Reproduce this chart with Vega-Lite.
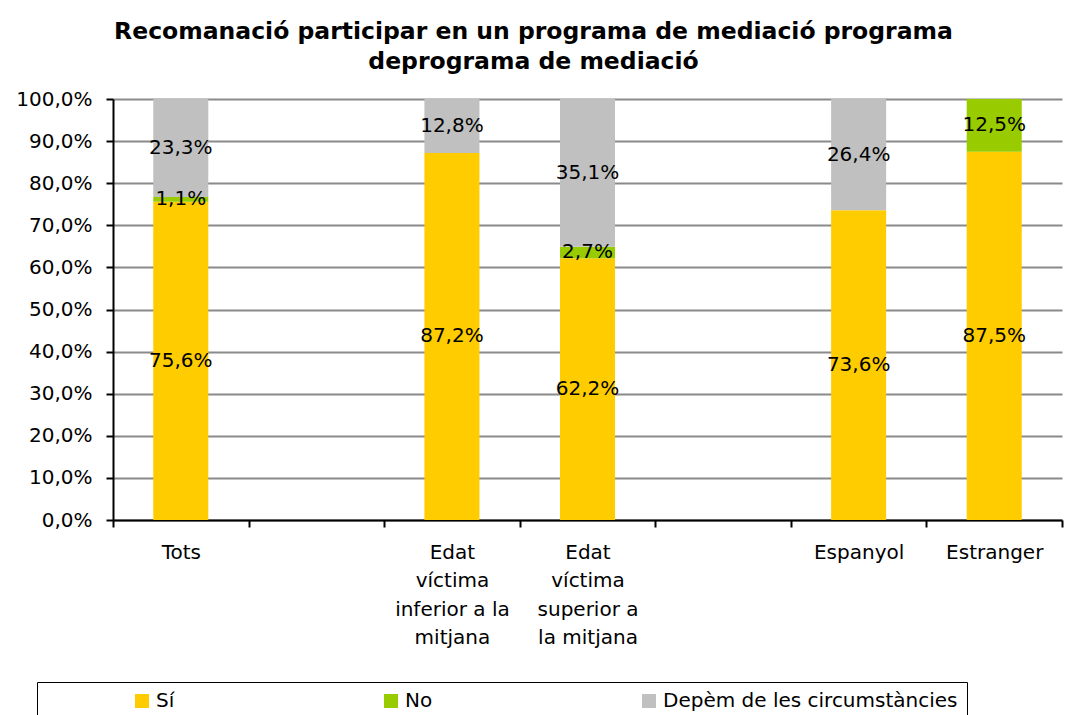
{
  "$schema": "https://vega.github.io/schema/vega-lite/v6.json",
  "width": 949,
  "height": 421,
  "autosize": {"type": "none"},
  "padding": {"left": 113, "top": 99, "right": 6, "bottom": 195},
  "background": "white",
  "title": {
    "text": ["Recomanació participar en un programa de mediació programa", "deprograma de mediació"],
    "font": "DejaVu Sans",
    "fontSize": 23.5,
    "fontWeight": "bold",
    "lineHeight": 30,
    "anchor": "middle",
    "dx": -54,
    "offset": 16,
    "color": "black"
  },
  "config": {
    "locale": {"number": {"decimal": ",", "thousands": ".", "grouping": [3], "currency": ["", " €"]}},
    "view": {"stroke": null},
    "font": "DejaVu Sans"
  },
  "data": {
    "values": [
      {"cat": "Tots", "resp": "Sí", "value": 0.756},
      {"cat": "Tots", "resp": "No", "value": 0.011},
      {"cat": "Tots", "resp": "Depèm de les circumstàncies", "value": 0.233},
      {"cat": "Edat|víctima|inferior a la|mitjana", "resp": "Sí", "value": 0.872},
      {"cat": "Edat|víctima|inferior a la|mitjana", "resp": "No", "value": 0},
      {"cat": "Edat|víctima|inferior a la|mitjana", "resp": "Depèm de les circumstàncies", "value": 0.128},
      {"cat": "Edat|víctima|superior a|la mitjana", "resp": "Sí", "value": 0.622},
      {"cat": "Edat|víctima|superior a|la mitjana", "resp": "No", "value": 0.027},
      {"cat": "Edat|víctima|superior a|la mitjana", "resp": "Depèm de les circumstàncies", "value": 0.351},
      {"cat": "Espanyol", "resp": "Sí", "value": 0.736},
      {"cat": "Espanyol", "resp": "No", "value": 0},
      {"cat": "Espanyol", "resp": "Depèm de les circumstàncies", "value": 0.264},
      {"cat": "Estranger", "resp": "Sí", "value": 0.875},
      {"cat": "Estranger", "resp": "No", "value": 0.125},
      {"cat": "Estranger", "resp": "Depèm de les circumstàncies", "value": 0}
    ]
  },
  "transform": [
    {"stack": "value", "groupby": ["cat"], "sort": [{"field": "resp", "order": "descending"}], "as": ["v0", "v1"]},
    {"calculate": "(datum.v0 + datum.v1) / 2", "as": "mid"}
  ],
  "encoding": {
    "x": {
      "field": "cat",
      "type": "nominal",
      "scale": {
        "domain": ["Tots", "_1", "Edat|víctima|inferior a la|mitjana", "Edat|víctima|superior a|la mitjana", "_2", "Espanyol", "Estranger"],
        "paddingInner": 0,
        "paddingOuter": 0
      },
      "axis": {
        "title": null,
        "labelAngle": 0,
        "labelExpr": "indexof(datum.label, '_') == 0 ? '' : split(datum.label, '|')",
        "labelFont": "DejaVu Sans",
        "labelFontSize": 20,
        "labelColor": "black",
        "labelLineHeight": 28.5,
        "labelPadding": 15,
        "labelLimit": 300,
        "tickBand": "extent",
        "ticks": true,
        "tickSize": 7,
        "tickWidth": 2,
        "tickColor": "black",
        "domainColor": "black",
        "domainWidth": 2,
        "grid": false
      }
    }
  },
  "layer": [
    {
      "mark": {"type": "bar", "width": {"band": 0.406}},
      "encoding": {
        "y": {
          "field": "v0",
          "type": "quantitative",
          "scale": {"domain": [0, 1], "nice": false},
          "axis": {
            "title": null,
            "values": [0, 0.1, 0.2, 0.3, 0.4, 0.5, 0.6, 0.7, 0.8, 0.9, 1],
            "format": ".1%",
            "labelFont": "DejaVu Sans",
            "labelFontSize": 20,
            "labelColor": "black",
            "labelPadding": 14,
            "tickSize": 7,
            "tickWidth": 2,
            "tickColor": "black",
            "domainColor": "black",
            "domainWidth": 2,
            "grid": true,
            "gridColor": "#8a8a8a",
            "gridWidth": 2
          }
        },
        "y2": {"field": "v1"},
        "color": {
          "field": "resp",
          "type": "nominal",
          "scale": {
            "domain": ["Sí", "No", "Depèm de les circumstàncies"],
            "range": ["#FFCC00", "#99CC00", "#C0C0C0"]
          },
          "legend": {
            "title": " ",
            "titleOrient": "left",
            "titlePadding": 86,
            "titleFontSize": 20,
            "orient": "none",
            "legendX": -76,
            "legendY": 583,
            "direction": "horizontal",
            "columns": 3,
            "columnPadding": 206,
            "padding": 9,
            "strokeColor": "black",
            "fillColor": "white",
            "symbolType": "square",
            "symbolSize": 196,
            "symbolStrokeWidth": 0,
            "symbolOpacity": 1,
            "labelFont": "DejaVu Sans",
            "labelFontSize": 20,
            "labelColor": "black",
            "labelOffset": 4,
            "labelLimit": 400
          }
        }
      }
    },
    {
      "transform": [{"filter": "datum.value > 0"}],
      "mark": {"type": "text", "fontSize": 20, "font": "DejaVu Sans", "color": "black", "align": "center", "baseline": "middle"},
      "encoding": {
        "y": {"field": "mid", "type": "quantitative"},
        "text": {"field": "value", "type": "quantitative", "format": ".1%"}
      }
    }
  ]
}
